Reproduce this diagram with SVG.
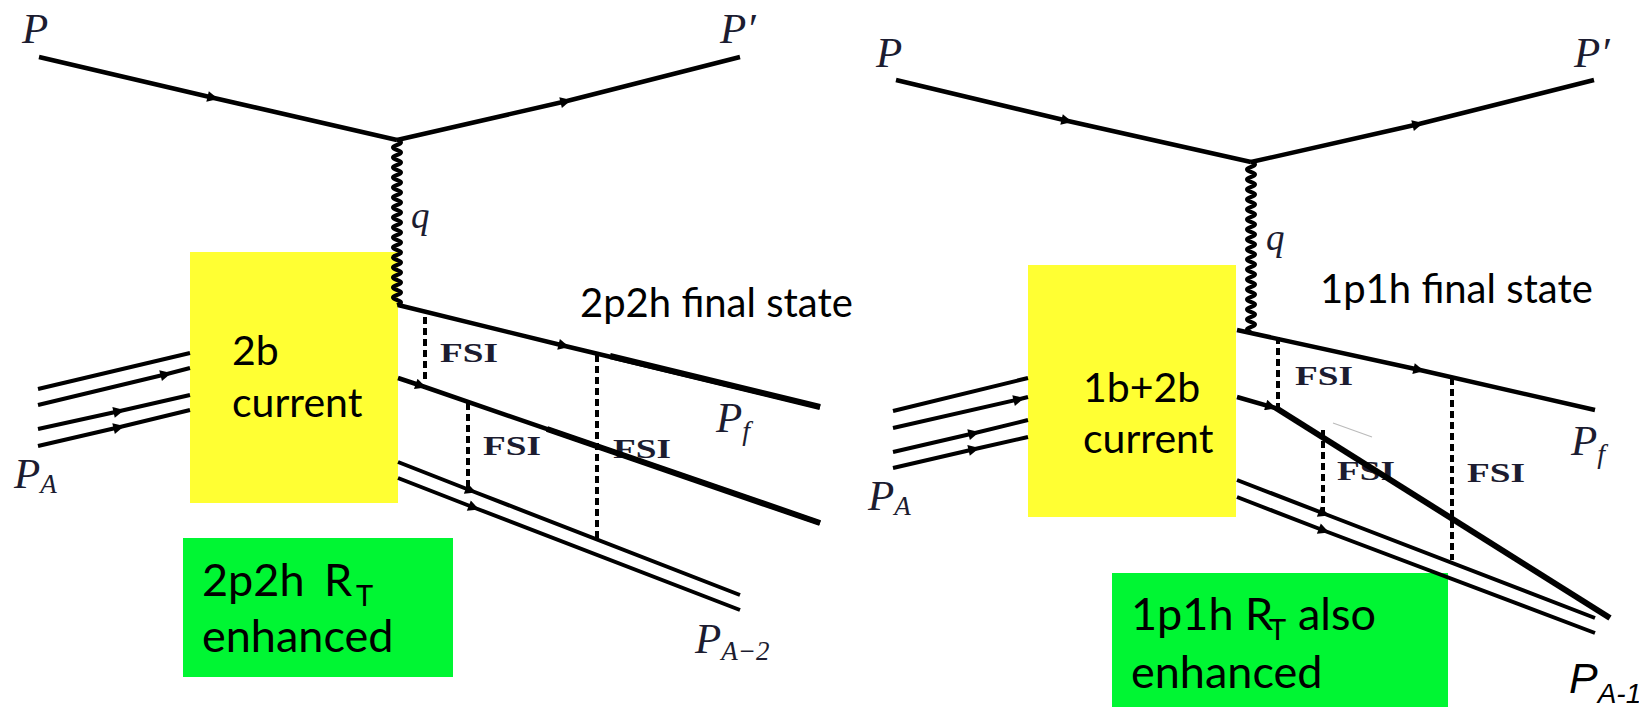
<svg xmlns="http://www.w3.org/2000/svg" width="1639" height="707" viewBox="0 0 1639 707">
<defs>
<style>
.ln{fill:none;stroke:#000;stroke-width:4.5;stroke-linecap:butt}
.th{fill:none;stroke:#000;stroke-width:6}
.dl{fill:none;stroke:#000;stroke-width:4}
.ds{fill:none;stroke:#000;stroke-width:4;stroke-dasharray:7 4}
.wv{fill:none;stroke:#000;stroke-width:4}
.ar{marker-mid:url(#arr)}
.m{font-family:"Liberation Serif","DejaVu Serif",serif;font-style:italic;fill:#1c1c30}
.fsi{font-family:"Liberation Serif","DejaVu Serif",serif;font-weight:bold;font-size:28px;fill:#1c1c30}
.t{font-family:Lato,"Open Sans",sans-serif;fill:#000}
.ybox{fill:#ffff33}
.gbox{fill:#00f633}
</style>
<marker id="arr" viewBox="0 0 10 10" refX="6" refY="5" markerWidth="15" markerHeight="11" markerUnits="userSpaceOnUse" orient="auto">
<path d="M0,0 L10,5 L0,10 z" fill="#000"/>
</marker>
</defs>

<g id="left-current-box"><rect class="ybox" x="190" y="252" width="208" height="251"/>
<text class="t" font-size="41" x="232" y="365">2b</text>
<text class="t" font-size="41" x="232" y="417">current</text></g>

<g id="left-rt-box"><rect class="gbox" x="183" y="538" width="270" height="139"/>
<text class="t" font-size="45" x="202" y="596">2p2h</text>
<text class="t" font-size="45" x="324" y="596">R</text>
<text class="t" font-size="29" x="356" y="606">T</text>
<text class="t" font-size="45" x="202" y="652">enhanced</text></g>

<g id="right-current-box"><rect class="ybox" x="1028" y="265" width="208" height="252"/>
<text class="t" font-size="41" x="1083" y="402">1b+2b</text>
<text class="t" font-size="41" x="1083" y="453">current</text></g>

<g id="right-rt-box"><rect class="gbox" x="1112" y="573" width="336" height="134"/>
<text class="t" font-size="45" x="1131" y="630">1p1h R</text>
<text class="t" font-size="29" x="1269" y="640">T</text>
<text class="t" font-size="45" x="1298" y="630">also</text>
<text class="t" font-size="45" x="1131" y="688">enhanced</text></g>

<g id="labels">
<text class="m" font-size="43" x="22" y="43">P</text>
<text class="m" font-size="43" x="720" y="43">P′</text>
<text class="m" font-size="37" x="411" y="228">q</text>
<text class="t" font-size="40" x="580" y="317">2p2h final state</text>
<text class="m" font-size="43" x="716" y="432">P<tspan font-size="28" dy="8">f</tspan></text>
<text class="m" font-size="43" x="14" y="488">P<tspan font-size="27" dy="5">A</tspan></text>
<text class="m" font-size="43" x="695" y="653">P<tspan font-size="27" dy="7">A−2</tspan></text>
<text class="fsi" x="440" y="362" textLength="58" lengthAdjust="spacingAndGlyphs">FSI</text>
<text class="fsi" x="483" y="455" textLength="58" lengthAdjust="spacingAndGlyphs">FSI</text>
<text class="fsi" x="613" y="458" textLength="58" lengthAdjust="spacingAndGlyphs">FSI</text>

<text class="m" font-size="43" x="876" y="67">P</text>
<text class="m" font-size="43" x="1574" y="67">P′</text>
<text class="m" font-size="37" x="1266" y="250">q</text>
<text class="t" font-size="40" x="1320" y="303">1p1h final state</text>
<text class="m" font-size="43" x="1571" y="455">P<tspan font-size="28" dy="8">f</tspan></text>
<text class="m" font-size="43" x="868" y="510">P<tspan font-size="27" dy="5">A</tspan></text>
<text font-family="Liberation Sans,Arial,sans-serif" font-style="italic" font-size="43" fill="#000" x="1569" y="693">P<tspan font-size="28" dy="10">A-1</tspan></text>
<text class="fsi" x="1295" y="385" textLength="58" lengthAdjust="spacingAndGlyphs">FSI</text>
<text class="fsi" x="1337" y="480" textLength="58" lengthAdjust="spacingAndGlyphs">FSI</text>
<text class="fsi" x="1467" y="482" textLength="58" lengthAdjust="spacingAndGlyphs">FSI</text>
</g>

<g id="connectors">
<path class="ln ar" d="M39,57 L214,98 L397,140"/>
<path class="ln ar" d="M397,140 L567,101 L740,57"/>
<path class="wv" d="M397,140 q8,2.5 0,5 t0,5 t0,5 t0,5 t0,5 t0,5 t0,5 t0,5 t0,5 t0,5 t0,5 t0,5 t0,5 t0,5 t0,5 t0,5 t0,5 t0,5 t0,5 t0,5 t0,5 t0,5 t0,5 t0,5 t0,5 t0,5 t0,5 t0,5 t0,5 t0,5 t0,5 t0,5 t0,5"/>
<path class="dl" d="M38,389 L190,353"/>
<path class="dl ar" d="M38,405 L167,374 L190,368"/>
<path class="dl ar" d="M38,429 L120,411 L190,395"/>
<path class="dl ar" d="M38,446 L120,427 L190,410"/>
<path class="ln ar" d="M398,305 L565,346 L820,407"/>
<path class="th" d="M610,356 L820,407"/>
<path class="ln ar" d="M398,378 L422,386 L820,523"/>
<path class="th" d="M547,429 L820,523"/>
<path class="dl ar" d="M398,462 L472,491 L740,595"/>
<path class="dl ar" d="M398,478 L475,508 L740,610"/>
<path class="ds" d="M425,317 V383"/>
<path class="ds" d="M468,403 V493"/>
<path class="ds" d="M597,355 V538"/>
<path class="ln ar" d="M896,80 L1068,121 L1251,162"/>
<path class="ln ar" d="M1251,162 L1419,124 L1594,80"/>
<path class="wv" d="M1251,162 q8,2.5 0,5 t0,5 t0,5 t0,5 t0,5 t0,5 t0,5 t0,5 t0,5 t0,5 t0,5 t0,5 t0,5 t0,5 t0,5 t0,5 t0,5 t0,5 t0,5 t0,5 t0,5 t0,5 t0,5 t0,5 t0,5 t0,5 t0,5 t0,5 t0,5 t0,5 t0,5 t0,5 t0,5 t0,5"/>
<path class="dl" d="M893,411 L1028,378"/>
<path class="dl ar" d="M893,428 L1020,399 L1028,397"/>
<path class="dl ar" d="M893,452 L975,433 L1028,420"/>
<path class="dl ar" d="M893,468 L975,449 L1028,437"/>
<path class="ln ar" d="M1237,330 L1420,370 L1595,410"/>
<path class="ln ar" d="M1237,397 L1272,407 L1278,409"/>
<path class="th" d="M1276,408 L1610,618"/>
<path d="M1333,423 L1372,437" stroke="#bbb" stroke-width="1.2" fill="none"/>
<path class="dl ar" d="M1237,480 L1325,514 L1595,618"/>
<path class="dl ar" d="M1237,497 L1325,531 L1595,633"/>
<path class="ds" d="M1278,337 V407"/>
<path class="ds" d="M1323,430 V513"/>
<path class="ds" d="M1452,378 V560"/>
</g>
</svg>
